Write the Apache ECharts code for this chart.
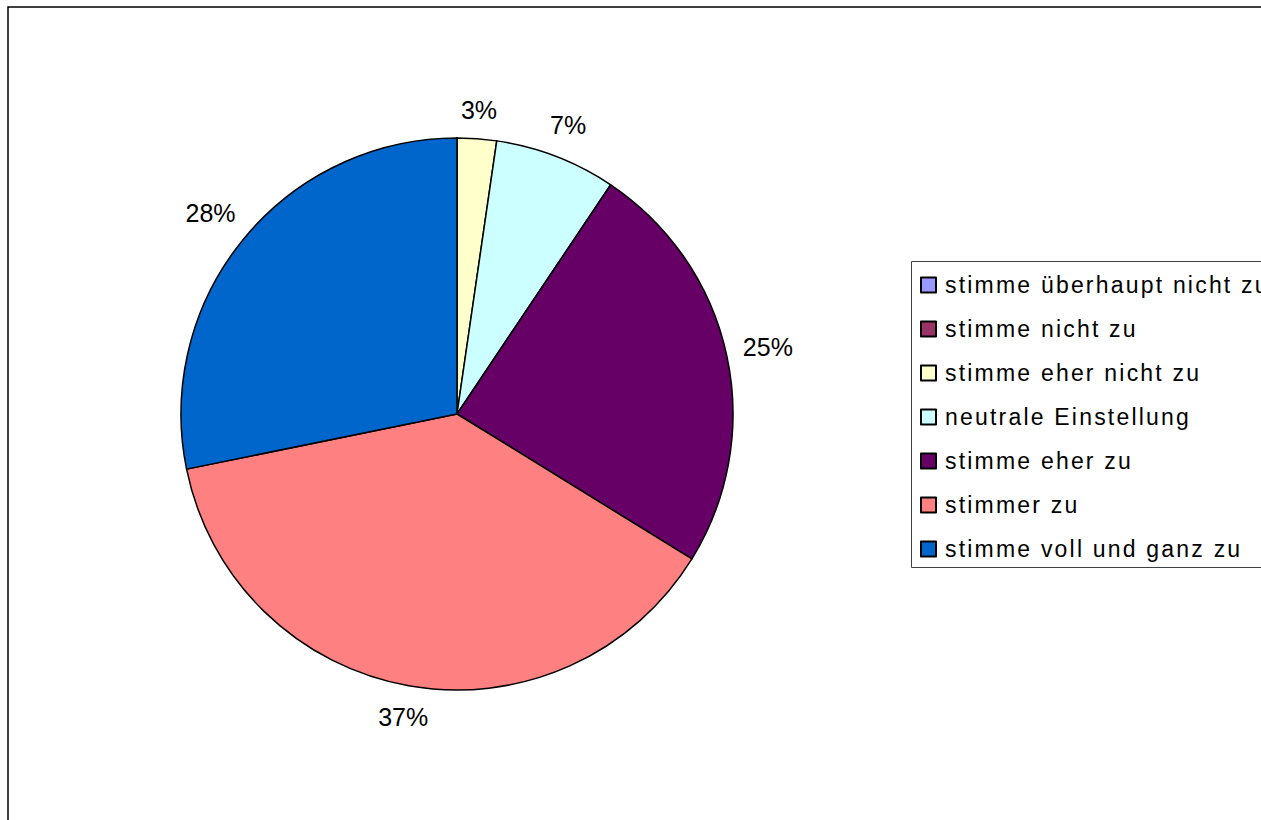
<!DOCTYPE html>
<html>
<head>
<meta charset="utf-8">
<script src="https://cdn.jsdelivr.net/npm/echarts@6/dist/echarts.min.js"></script>
<style>
html,body{margin:0;padding:0;background:#fff;}
#chart{width:1261px;height:820px;}
#chart text[text-anchor="start"]{letter-spacing:2.2px;}
</style>
</head>
<body>
<div id="chart"></div>
<script>
const categories = ['stimme überhaupt nicht zu','stimme nicht zu','stimme eher nicht zu','neutrale Einstellung','stimme eher zu','stimmer zu','stimme voll und ganz zu'];
const values = [0, 0, 2.3, 7.1, 24.4, 38.0, 28.2];
const pctLabels = ['', '', '3%', '7%', '25%', '37%', '28%'];
const colors = ['#9999FF','#993366','#FFFFCC','#CCFFFF','#660066','#FF8080','#0066CC'];

const CX = 457, CY = 414, R = 276, GAP = 15;
const total = values.reduce((a,b)=>a+b,0);
const midAngles = [];
(function(){ let c = 0; values.forEach(v=>{ midAngles.push((c + v/2)/total*2*Math.PI); c += v; }); })();

const chart = echarts.init(document.getElementById('chart'), null, {renderer:'svg'});
const font = "'Liberation Sans', Arial, sans-serif";
const pieData = categories.map((c,i)=>({name:c, value:values[i], itemStyle:{color:colors[i]}}));

chart.setOption({
  animation:false,
  backgroundColor:'#ffffff',
  graphic:[
    {type:'rect', shape:{x:8, y:7, width:1400, height:1000}, style:{fill:'none', stroke:'#000', lineWidth:1.5}, silent:true},
    {type:'rect', shape:{x:911.5, y:261.5, width:500, height:306}, style:{fill:'#fff', stroke:'#404040', lineWidth:1}, silent:true, z:-1}
  ],
  legend:{
    orient:'vertical', left:920, top:273, padding:0,
    itemWidth:15, itemHeight:15, itemGap:20,
    icon:'rect',
    data:categories,
    selectedMode:false,
    textStyle:{fontSize:23, lineHeight:24, color:'#000', fontFamily:font, padding:[0,0,0,4]}
  },
  series:[
    {
      type:'pie', center:[CX,CY], radius:R, startAngle:90, clockwise:true,
      avoidLabelOverlap:false, silent:true,
      data:pieData,
      itemStyle:{borderColor:'#000', borderWidth:1.5},
      label:{show:true, position:'inside', color:'#000', fontSize:25, fontFamily:font,
        formatter:p=> pctLabels[p.dataIndex]},
      labelLine:{show:false},
      labelLayout:function(p){
        const a = midAngles[p.dataIndex];
        const ux = Math.sin(a), uy = -Math.cos(a);
        const w = p.labelRect.width, h = p.labelRect.height;
        const d = R + GAP + Math.abs(ux)*w/2 + Math.abs(uy)*h/2;
        return {x: CX + d*ux, y: CY + d*uy};
      }
    }
  ]
});
</script>
</body>
</html>
